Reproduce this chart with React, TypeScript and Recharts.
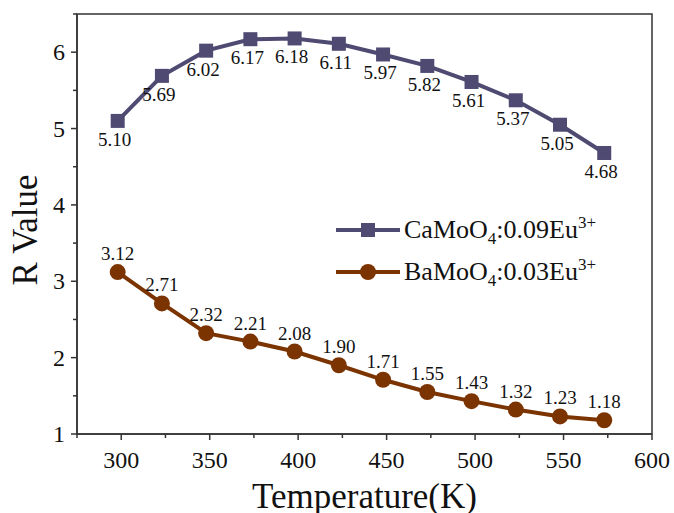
import React from "react";
import {
  LineChart,
  Line,
  XAxis,
  YAxis,
  LabelList,
  ReferenceArea,
} from "recharts";

const temperatures = [298, 323, 348, 373, 398, 423, 448, 473, 498, 523, 548, 573];
const caValues = [5.1, 5.69, 6.02, 6.17, 6.18, 6.11, 5.97, 5.82, 5.61, 5.37, 5.05, 4.68];
const baValues = [3.12, 2.71, 2.32, 2.21, 2.08, 1.9, 1.71, 1.55, 1.43, 1.32, 1.23, 1.18];
const xTicks = [275, 300, 325, 350, 375, 400, 425, 450, 475, 500, 525, 550, 575, 600];
const xMajor = [300, 350, 400, 450, 500, 550, 600];
const yTicks = [1, 1.5, 2, 2.5, 3, 3.5, 4, 4.5, 5, 5.5, 6, 6.5];
const yMajor = [1, 2, 3, 4, 5, 6];

const CA_COLOR = "#4e4a72";
const BA_COLOR = "#7b3400";
const AXIS = "#333";
const FONT = "'Liberation Serif', 'Times New Roman', serif";

const data = temperatures.map((t, i) => ({ t, ca: caValues[i], ba: baValues[i] }));

const Square = (props: any) => {
  const { cx, cy } = props;
  if (cx == null || cy == null) return null;
  return <rect x={cx - 7} y={cy - 7} width={14} height={14} fill={CA_COLOR} />;
};

const Circle = (props: any) => {
  const { cx, cy } = props;
  if (cx == null || cy == null) return null;
  return <circle cx={cx} cy={cy} r={8} fill={BA_COLOR} />;
};

const XTick = (props: any) => {
  const { x, y, payload } = props;
  const major = xMajor.includes(payload.value);
  return (
    <g>
      <line x1={x} x2={x} y1={y} y2={y + (major ? 6 : 4)} stroke={AXIS} strokeWidth={1.5} />
      {major && (
        <text x={x} y={y + 34} textAnchor="middle" fontSize={24} fontFamily={FONT} fill="#111">
          {payload.value}
        </text>
      )}
    </g>
  );
};

const YTick = (props: any) => {
  const { x, y, payload } = props;
  const major = yMajor.includes(payload.value);
  return (
    <g>
      <line x1={x - (major ? 6 : 4)} x2={x} y1={y} y2={y} stroke={AXIS} strokeWidth={1.5} />
      {major && (
        <text x={x - 12} y={y + 8} textAnchor="end" fontSize={24} fontFamily={FONT} fill="#111">
          {payload.value}
        </text>
      )}
    </g>
  );
};

const labelFor = (dy: number, dx: number) => (props: any) => {
  const { x, y, value } = props;
  return (
    <text x={x + dx} y={y + dy} textAnchor="middle" fontSize={19} fontFamily={FONT} fill="#111">
      {Number(value).toFixed(2)}
    </text>
  );
};

const LegendBox = () => {
  const items = [
    { base: "CaMoO", dop: "0.09", color: CA_COLOR, square: true },
    { base: "BaMoO", dop: "0.03", color: BA_COLOR, square: false },
  ];
  return (
    <div
      style={{
        position: "absolute",
        left: 336,
        top: 209,
        fontFamily: FONT,
        fontSize: 26,
        color: "#111",
        lineHeight: 1,
      }}
    >
      {items.map((it, i) => (
        <div key={i} style={{ display: "flex", alignItems: "center", height: 42 }}>
          <svg width={66} height={20} style={{ marginRight: 2 }}>
            <line x1={0} x2={64} y1={10} y2={10} stroke={it.color} strokeWidth={4} />
            {it.square ? (
              <rect x={25} y={3} width={14} height={14} fill={it.color} />
            ) : (
              <circle cx={32} cy={10} r={8} fill={it.color} />
            )}
          </svg>
          <span style={{ whiteSpace: "nowrap" }}>
            {it.base}
            <sub style={{ fontSize: 17, lineHeight: 0 }}>4</sub>:{it.dop}Eu
            <sup style={{ fontSize: 17, lineHeight: 0 }}>3+</sup>
          </span>
        </div>
      ))}
    </div>
  );
};

export default function App() {
  return (
    <div style={{ position: "absolute", left: 0, top: 0, width: 674, height: 513 }}>
      <LineChart
        width={674}
        height={513}
        data={data}
        margin={{ top: 14, right: 22, bottom: 0, left: 0 }}
      >
        <ReferenceArea
          x1={275}
          x2={600}
          y1={1}
          y2={6.5}
          fill="none"
          fillOpacity={0}
          stroke={AXIS}
          strokeWidth={1.5}
          ifOverflow="visible"
        />
        <XAxis
          dataKey="t"
          type="number"
          domain={[275, 600]}
          ticks={xTicks}
          height={79}
          stroke={AXIS}
          strokeWidth={1.5}
          tickLine={false}
          tickSize={0}
          tickMargin={0}
          tick={<XTick />}
          interval={0}
          label={{
            value: "Temperature(K)",
            position: "insideBottom",
            offset: 5,
            fontSize: 35,
            fontFamily: FONT,
            fill: "#111",
          }}
        />
        <YAxis
          type="number"
          domain={[1, 6.5]}
          ticks={yTicks}
          width={77}
          stroke={AXIS}
          strokeWidth={1.5}
          tickLine={false}
          tickSize={0}
          tickMargin={0}
          tick={<YTick />}
          interval={0}
          label={{
            content: () => (
              <text
                x={37}
                y={230}
                transform="rotate(-90, 37, 230)"
                textAnchor="middle"
                fontSize={35}
                fontFamily={FONT}
                fill="#111"
              >
                R Value
              </text>
            ),
          }}
        />
        <Line
          type="linear"
          dataKey="ca"
          stroke={CA_COLOR}
          strokeWidth={4}
          dot={<Square />}
          activeDot={false}
          isAnimationActive={false}
        >
          <LabelList dataKey="ca" content={labelFor(25, -3)} />
        </Line>
        <Line
          type="linear"
          dataKey="ba"
          stroke={BA_COLOR}
          strokeWidth={4}
          dot={<Circle />}
          activeDot={false}
          isAnimationActive={false}
        >
          <LabelList dataKey="ba" content={labelFor(-12, 0)} />
        </Line>
      </LineChart>
      <LegendBox />
    </div>
  );
}
